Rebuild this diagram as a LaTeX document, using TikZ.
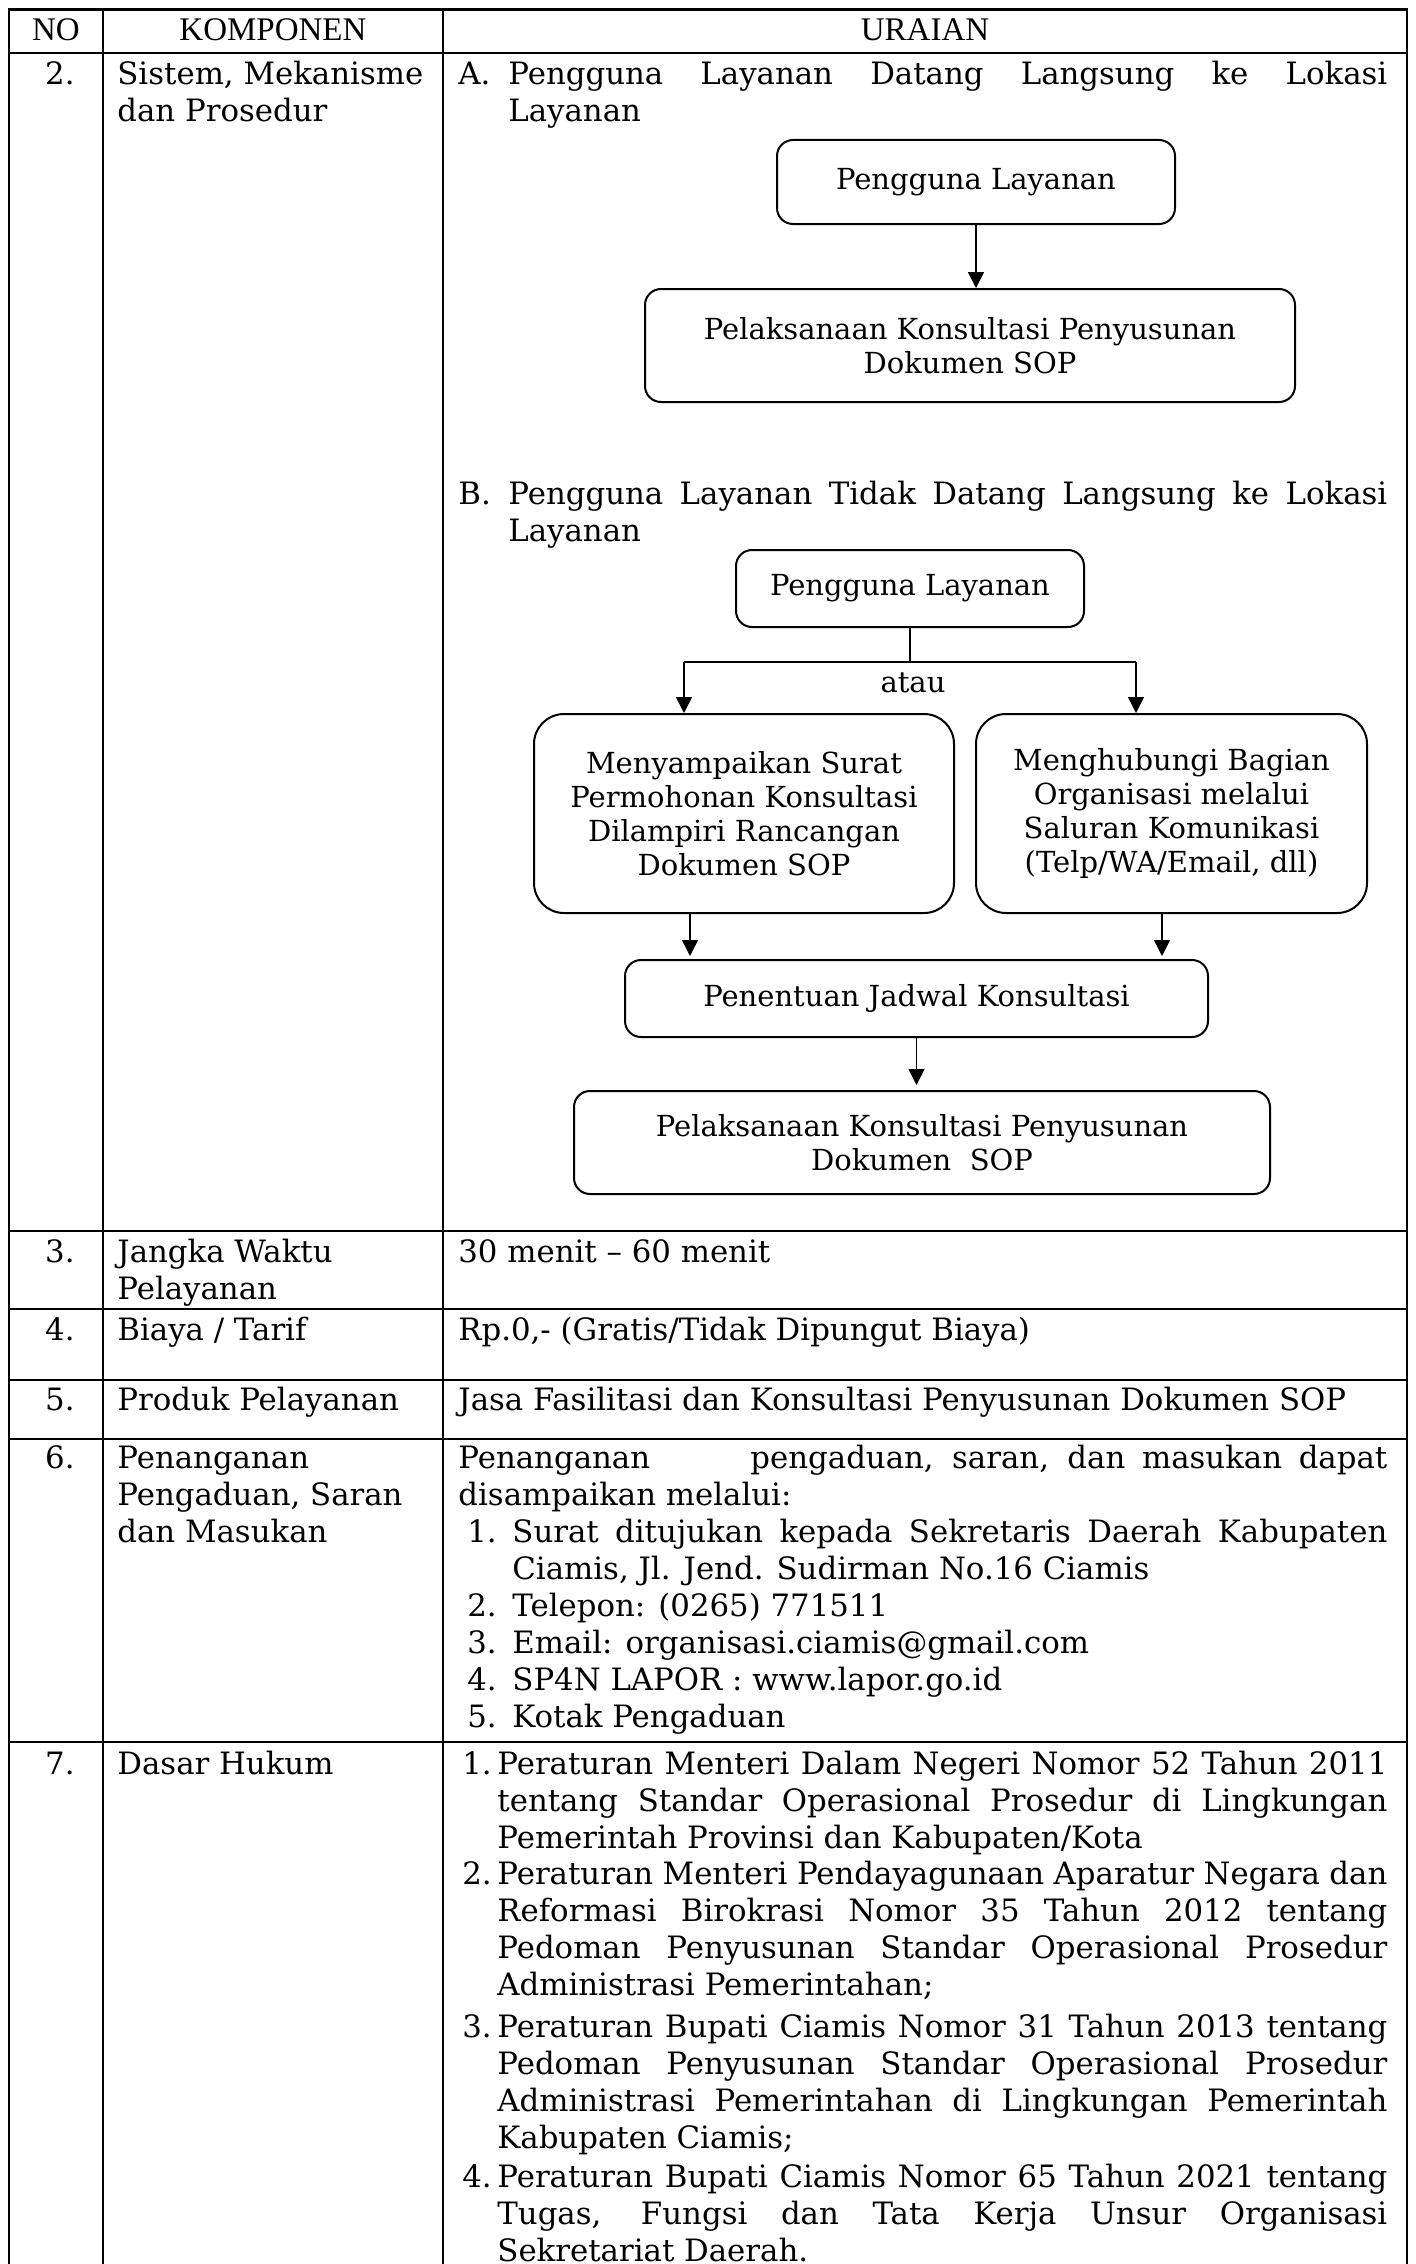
\documentclass[tikz,border=0pt]{standalone}
\usepackage{fontspec}
\setmainfont{DejaVu Serif}
\newfontfamily\headserif{Liberation Serif}
\usetikzlibrary{arrows.meta}

% type sizes (picture unit: 1 = 0.5pt)
\newcommand{\bodyfont}{\fontsize{15.4}{18.5}\selectfont}
\newcommand{\flowfont}{\fontsize{14.5}{17}\selectfont}
\newcommand{\headfont}{\headserif\fontsize{16.5}{18}\selectfont}
% one justified line, spread over the full line width
\newcommand{\jl}[1]{\makebox[\linewidth][s]{#1}}

\tikzset{
  rule/.style={line width=1.4pt, line join=miter},
  flowbox/.style={draw, line width=1pt, rounded corners=8pt, align=center,
    inner sep=0pt, font=\flowfont},
  link/.style={line width=0.8pt},
  arr/.style={link, -{Triangle[length=8pt, width=8pt]}},
  head/.style={anchor=base, inner sep=0pt, font=\headfont},
  txt/.style={anchor=base west, inner sep=0pt, font=\bodyfont},
  para/.style={txt, text width=#1, align=justify},
  num/.style={anchor=base east, inner sep=0pt, font=\bodyfont},
}

\begin{document}
\begin{tikzpicture}[x=0.5pt, y=-0.5pt]
\useasboundingbox (0,0) rectangle (1416,2264);

% table frame and rules
\draw[rule] (9,2264) -- (9,9.5) -- (1407,9.5) -- (1407,2264);
\draw[rule] (103,9.5) -- (103,2264);
\draw[rule] (443,9.5) -- (443,2264);
\foreach \yy in {53,1231,1309,1380,1439,1742}
  \draw[rule] (9,\yy) -- (1407,\yy);

% header row
\node[head] (hNo)   at (56,41)  {NO};
\node[head] (hKomp) at (273,41) {KOMPONEN};
\node[head] (hUr)   at (925,41) {URAIAN};

% numbers
\node[num] (n2) at (75,85)   {2.};
\node[num] (n3) at (75,1262) {3.};
\node[num] (n4) at (75,1340) {4.};
\node[num] (n5) at (75,1410) {5.};
\node[num] (n6) at (75,1468) {6.};
\node[num] (n7) at (75,1774) {7.};

% components
\node[para=160pt] (k2) at (117,85)   {Sistem, Mekanisme\\dan Prosedur};
\node[para=160pt] (k3) at (117,1262) {Jangka Waktu\\Pelayanan};
\node[txt]        (k4) at (117,1340) {Biaya / Tarif};
\node[txt]        (k5) at (117,1410) {Produk Pelayanan};
\node[para=160pt] (k6) at (117,1468) {Penanganan\\Pengaduan, Saran\\dan Masukan};
\node[txt]        (k7) at (117,1774) {Dasar Hukum};

% ---- row 2, part A
\node[txt] (aLbl) at (458,85) {A.};
\node[para=439.5pt] (aTxt) at (508,85)
  {\jl{Pengguna Layanan Datang Langsung ke Lokasi}\\Layanan};

\node[flowbox, minimum width=199pt, minimum height=42pt] (a1) at (976,182)
  {Pengguna Layanan};
\node[flowbox, minimum width=325pt, minimum height=56.5pt] (a2) at (970,345.5)
  {Pelaksanaan Konsultasi Penyusunan\\Dokumen SOP};
\draw[arr] (a1.south) -- (a1.south |- a2.north);

% ---- row 2, part B
\node[txt] (bLbl) at (458,504) {B.};
\node[para=439.5pt] (bTxt) at (508,504)
  {\jl{Pengguna Layanan Tidak Datang Langsung ke Lokasi}\\Layanan};

\node[flowbox, minimum width=174pt, minimum height=38.5pt] (b1) at (910,588.5)
  {Pengguna Layanan};
\node[flowbox, rounded corners=15pt, minimum width=210pt, minimum height=99.5pt]
  (b2l) at (744,813.5)
  {Menyampaikan Surat\\Permohonan Konsultasi\\Dilampiri Rancangan\\Dokumen SOP};
\node[flowbox, rounded corners=15pt, minimum width=195.5pt, minimum height=99.5pt]
  (b2r) at (1171.5,813.5)
  {Menghubungi Bagian\\Organisasi melalui\\Saluran Komunikasi\\(Telp/WA/Email, dll)};
\node[flowbox, minimum width=291.5pt, minimum height=38.5pt] (b3) at (916.5,998.5)
  {Penentuan Jadwal Konsultasi};
\node[flowbox, minimum width=348pt, minimum height=51.5pt] (b4) at (922,1142.5)
  {Pelaksanaan Konsultasi Penyusunan\\Dokumen\ \ SOP};

\coordinate (spL) at (684,662);
\coordinate (spR) at (1136,662);
\draw[link] (b1.south) -- (b1.south |- spL);
\draw[link] (spL) -- (spR);
\draw[arr] (spL) -- (spL |- b2l.north);
\draw[arr] (spR) -- (spR |- b2r.north);
\node[anchor=base, inner sep=0pt, font=\flowfont] (atau) at (913,692) {atau};

\draw[arr, shorten >=1.5pt] ([xshift=-27pt]b2l.south) -- ([xshift=-27pt]b2l.south |- b3.north);
\draw[arr, shorten >=1.5pt] ([xshift=-4.75pt]b2r.south) -- ([xshift=-4.75pt]b2r.south |- b3.north);
\draw[arr, shorten >=2.5pt] (b3.south) -- (b3.south |- b4.north);

% ---- rows 3 to 5
\node[txt] (u3) at (458,1262) {30 menit \textendash{} 60 menit};
\node[txt] (u4) at (458,1340) {Rp.0,- (Gratis/Tidak Dipungut Biaya)};
\node[txt] (u5) at (458,1410) {Jasa Fasilitasi dan Konsultasi Penyusunan Dokumen SOP};

% ---- row 6
\node[para=464.5pt] (u6) at (458,1468)
  {\jl{\makebox[146pt][l]{Penanganan}pengaduan, saran, dan masukan dapat}\\disampaikan melalui:};
\node[txt] (c1n) at (467,1542) {1.};
\node[para=437.5pt] (c1) at (512,1542)
  {\jl{Surat ditujukan kepada Sekretaris Daerah Kabupaten}\\Ciamis, Jl. Jend. Sudirman No.16 Ciamis};
\node[txt] (c2n) at (467,1616) {2.};
\node[txt] (c2)  at (512,1616) {Telepon: (0265) 771511};
\node[txt] (c3n) at (467,1653) {3.};
\node[txt] (c3)  at (512,1653) {Email: organisasi.ciamis@gmail.com};
\node[txt] (c4n) at (467,1690) {4.};
\node[txt] (c4)  at (512,1690) {SP4N LAPOR : www.lapor.go.id};
\node[txt] (c5n) at (467,1727) {5.};
\node[txt] (c5)  at (512,1727) {Kotak Pengaduan};

% ---- row 7
\node[txt] (d1n) at (462,1774) {1.};
\node[para=445pt] (d1) at (497,1774)
  {\jl{Peraturan Menteri Dalam Negeri Nomor 52 Tahun 2011}\\
   \jl{tentang Standar Operasional Prosedur di Lingkungan}\\
   Pemerintah Provinsi dan Kabupaten/Kota};
\node[txt] (d2n) at (462,1884) {2.};
\node[para=445pt] (d2) at (497,1884)
  {\jl{Peraturan Menteri Pendayagunaan Aparatur Negara dan}\\
   \jl{Reformasi Birokrasi Nomor 35 Tahun 2012 tentang}\\
   \jl{Pedoman Penyusunan Standar Operasional Prosedur}\\
   Administrasi Pemerintahan;};
\node[txt] (d3n) at (462,2037) {3.};
\node[para=445pt] (d3) at (497,2037)
  {\jl{Peraturan Bupati Ciamis Nomor 31 Tahun 2013 tentang}\\
   \jl{Pedoman Penyusunan Standar Operasional Prosedur}\\
   \jl{Administrasi Pemerintahan di Lingkungan Pemerintah}\\
   Kabupaten Ciamis;};
\node[txt] (d4n) at (462,2187) {4.};
\node[para=445pt] (d4) at (497,2187)
  {\jl{Peraturan Bupati Ciamis Nomor 65 Tahun 2021 tentang}\\
   \jl{Tugas, Fungsi dan Tata Kerja Unsur Organisasi}\\
   Sekretariat Daerah.};
\end{tikzpicture}
\end{document}
